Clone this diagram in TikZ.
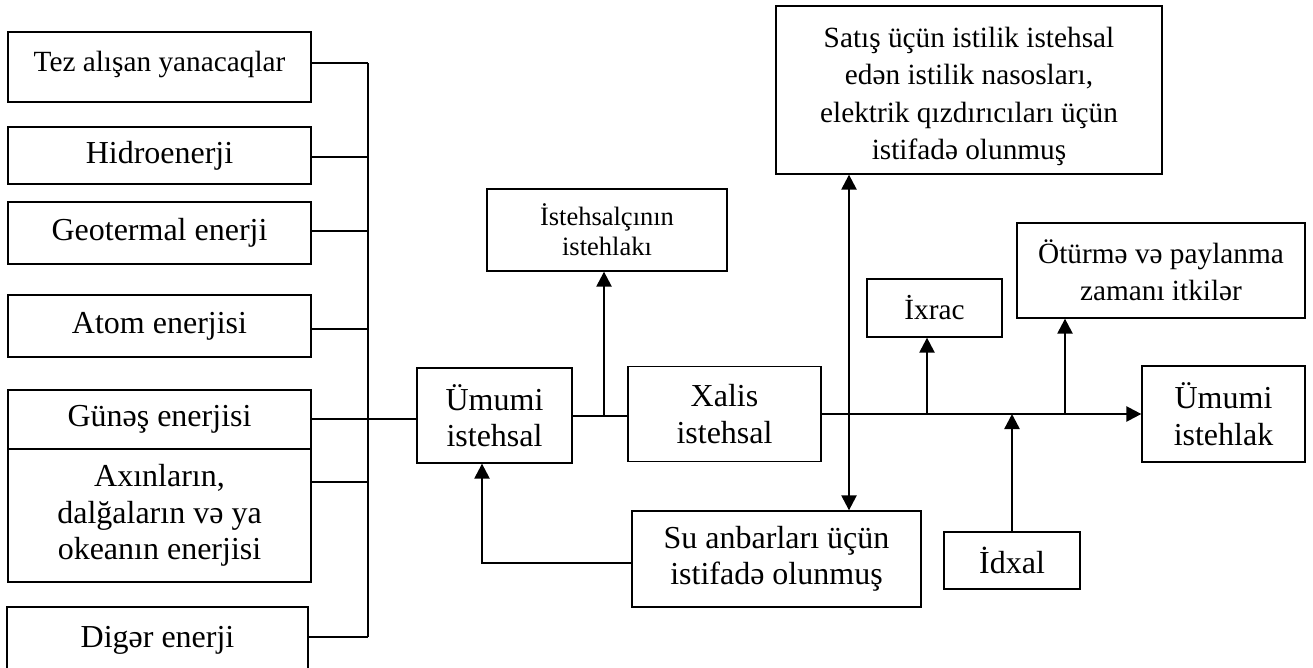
\documentclass[tikz,border=0pt]{standalone}
\usepackage{fontspec}
\setmainfont{Liberation Serif}
\usetikzlibrary{arrows.meta}

\begin{document}
\begin{tikzpicture}[x=1pt,y=-1pt,
  box/.style={draw, line width=1.3pt, align=center, inner sep=0pt,
    font=\fontsize{32}{36.5}\selectfont},
  slimbox/.style={box, font=\fontsize{29.3}{37.5}\selectfont},
  smallbox/.style={box, font=\fontsize{26.5}{30}\selectfont},
  link/.style={line width=1.3pt},
  flow/.style={line width=2.4pt, -{Triangle[length=15pt,width=15pt]}},
  twoway/.style={line width=2.4pt, {Triangle[length=15pt,width=15pt]}-{Triangle[length=15pt,width=15pt]}},
]
\useasboundingbox (0,0) rectangle (1313,668);

% energy sources
\node[slimbox, minimum width=303pt, minimum height=70pt, text depth=12pt] (tez) at (159.5,67) {Tez alışan yanacaqlar};
\node[box, minimum width=303pt, minimum height=57pt] (hidro) at (159.5,155.5) {Hidroenerji};
\node[box, minimum width=303pt, minimum height=62pt] (geo) at (159.5,233) {Geotermal enerji};
\node[box, minimum width=303pt, minimum height=62pt] (atom) at (159.5,326) {Atom enerjisi};
\node[box, minimum width=303pt, minimum height=59pt] (gun) at (159.5,419.5) {Günəş enerjisi};
\node[box, minimum width=303pt, minimum height=133pt] (axin) at (159.5,515.5) {Axınların,\\dalğaların və ya\\okeanın enerjisi};
\node[box, minimum width=301pt, minimum height=66pt] (diger) at (157.5,640) {Digər enerji};

% production and consumption chain
\node[box, minimum width=155pt, minimum height=95pt] (umist) at (494.5,415.5) {Ümumi\\istehsal};
\node[smallbox, minimum width=240pt, minimum height=82pt] (istc) at (607,230) {İstehsalçının\\istehlakı};
\node[box, minimum width=193pt, minimum height=95pt] (xalis) at (724.5,414) {Xalis\\istehsal};
\node[slimbox, minimum width=386pt, minimum height=168pt] (satis) at (969,90) {\rule{0pt}{33pt}Satış üçün istilik istehsal\\edən istilik nasosları,\\elektrik qızdırıcıları üçün\\istifadə olunmuş};
\node[box, minimum width=289pt, minimum height=96pt] (su) at (776.5,559) {Su anbarları üçün\\istifadə olunmuş};
\node[slimbox, minimum width=135pt, minimum height=58pt] (ixrac) at (934.5,308) {İxrac};
\node[slimbox, minimum width=288pt, minimum height=95pt] (otur) at (1161,270.5) {Ötürmə və paylanma\\zamanı itkilər};
\node[box, minimum width=163pt, minimum height=96pt] (umistl) at (1223.5,414) {Ümumi\\istehlak};
\node[box, minimum width=136pt, minimum height=57pt] (idxal) at (1012,560.5) {İdxal};

% collecting bus
\coordinate (bus) at (368,63);
\draw[link] (bus) -- (bus |- 0,637);
\draw[link] (tez.east |- 0,63) -- (bus |- 0,63);
\draw[link] (hidro.east |- 0,157) -- (bus |- 0,157);
\draw[link] (geo.east |- 0,231) -- (bus |- 0,231);
\draw[link] (atom.east |- 0,329) -- (bus |- 0,329);
\draw[link] (gun.east |- 0,419) -- (umist.west |- 0,419);
\draw[link] (axin.east |- 0,482) -- (bus |- 0,482);
\draw[link] (diger.east |- 0,637) -- (bus |- 0,637);

% gross to net production
\coordinate (split) at (604,416);
\draw[link] (umist.east |- split) -- (xalis.west |- split);
\draw[flow] (split) -- (istc.south -| split);

% reservoir loop
\coordinate (loop) at (482,563);
\draw[flow] (su.west |- loop) -- (loop) -- (umist.south -| loop);

% heat pumps and reservoirs
\coordinate (hp) at (849,174);
\draw[twoway] (satis.south -| hp) -- (su.north -| hp);

% main flow
\draw[flow] (xalis.east) -- (umistl.west);
\draw[flow] (927,414) -- (ixrac.south -| 927,0);
\draw[flow] (1065,414) -- (otur.south -| 1065,0);
\draw[flow] (idxal.north) -- (idxal.north |- 0,414);
\end{tikzpicture}
\end{document}
